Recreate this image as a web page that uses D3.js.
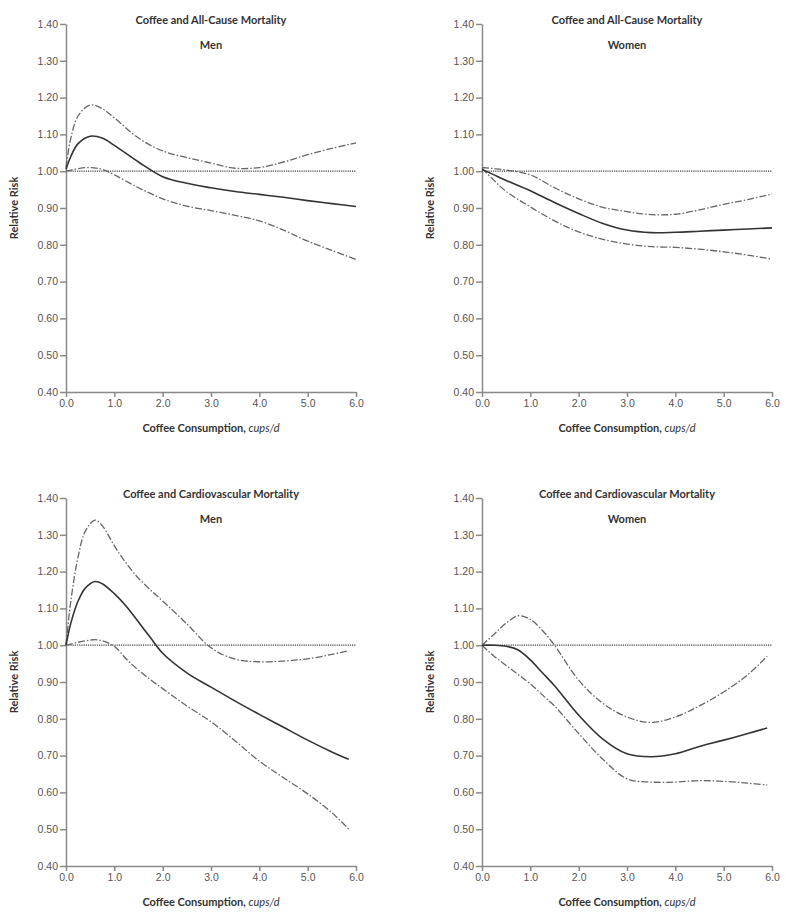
<!DOCTYPE html>
<html>
<head>
<meta charset="utf-8">
<script src="https://cdn.jsdelivr.net/npm/d3@7"></script>
<style>
  body { margin: 0; background: #fff; }
  svg { display: block; font-family: Lato, "Open Sans", sans-serif; }
  .tick text { fill: #555; font-size: 10.5px; }
  .domain, .tick line { stroke: #8a8a8a; stroke-width: 1.5; }
  .title { fill: #333; font-size: 11px; font-weight: bold; }
  .axis-title { fill: #333; font-size: 11px; font-weight: bold; }
</style>
</head>
<body>
<svg id="chart" width="796" height="919"></svg>
<script>
// coffee cups per day (grid points) and relative risk
const xAllMen = [0, 0.1, 0.25, 0.5, 0.75, 1.0, 1.5, 2.0, 2.5, 3.0, 3.5, 4.0, 4.5, 5.0, 5.5, 6.0];
const rrAllMen = [1.005, 1.04, 1.075, 1.095, 1.09, 1.07, 1.025, 0.985, 0.967, 0.955, 0.945, 0.937, 0.929, 0.92, 0.912, 0.904];
const hiAllMen = [1.01, 1.09, 1.15, 1.18, 1.17, 1.145, 1.09, 1.055, 1.037, 1.022, 1.008, 1.01, 1.025, 1.045, 1.062, 1.077];
const loAllMen = [1.0, 1.003, 1.007, 1.01, 1.005, 0.99, 0.955, 0.925, 0.905, 0.893, 0.88, 0.865, 0.84, 0.81, 0.785, 0.76];

const xAllWomen = [0, 0.25, 0.5, 1.0, 1.5, 2.0, 2.5, 3.0, 3.5, 4.0, 4.5, 5.0, 5.5, 6.0];
const rrAllWomen = [1.005, 0.99, 0.975, 0.947, 0.915, 0.885, 0.858, 0.84, 0.833, 0.834, 0.837, 0.84, 0.843, 0.846];
const hiAllWomen = [1.01, 1.007, 1.003, 0.99, 0.955, 0.925, 0.902, 0.89, 0.882, 0.883, 0.895, 0.91, 0.923, 0.938];
const loAllWomen = [1.008, 0.975, 0.945, 0.903, 0.865, 0.835, 0.815, 0.802, 0.795, 0.793, 0.788, 0.781, 0.772, 0.761];

const xCvMen = [0, 0.1, 0.25, 0.4, 0.6, 0.75, 1.0, 1.25, 1.5, 1.75, 2.0, 2.5, 3.0, 3.5, 4.0, 4.5, 5.0, 5.5, 5.85];
const rrCvMen = [1.0, 1.06, 1.12, 1.155, 1.173, 1.167, 1.14, 1.105, 1.063, 1.02, 0.978, 0.925, 0.886, 0.848, 0.812, 0.777, 0.742, 0.71, 0.69];
const hiCvMen = [1.0, 1.12, 1.24, 1.31, 1.34, 1.325, 1.27, 1.222, 1.182, 1.15, 1.12, 1.058, 0.993, 0.962, 0.955, 0.957, 0.963, 0.975, 0.985];
const loCvMen = [1.0, 1.003, 1.008, 1.012, 1.015, 1.012, 0.997, 0.962, 0.932, 0.906, 0.882, 0.835, 0.792, 0.74, 0.685, 0.64, 0.596, 0.545, 0.5];

const xCvWomen = [0, 0.25, 0.5, 0.75, 1.0, 1.25, 1.5, 2.0, 2.5, 3.0, 3.5, 4.0, 4.5, 5.0, 5.5, 5.9];
const rrCvWomen = [1.0, 1.0, 0.997, 0.987, 0.96, 0.925, 0.89, 0.81, 0.745, 0.705, 0.697, 0.705, 0.725, 0.742, 0.76, 0.775];
const hiCvWomen = [1.0, 1.03, 1.06, 1.08, 1.07, 1.04, 1.0, 0.905, 0.842, 0.805, 0.79, 0.805, 0.835, 0.873, 0.92, 0.97];
const loCvWomen = [1.0, 0.97, 0.945, 0.92, 0.895, 0.865, 0.835, 0.76, 0.69, 0.637, 0.628, 0.628, 0.632, 0.63, 0.625, 0.62];

const yTicks = [0.4, 0.5, 0.6, 0.7, 0.8, 0.9, 1.0, 1.1, 1.2, 1.3, 1.4];
const xTicks = [0, 1, 2, 3, 4, 5, 6];

const panels = [
  { title: 'Coffee and All-Cause Mortality', sub: 'Men', left: 66, top: 24, x: xAllMen, rr: rrAllMen, hi: hiAllMen, lo: loAllMen },
  { title: 'Coffee and All-Cause Mortality', sub: 'Women', left: 482, top: 24, x: xAllWomen, rr: rrAllWomen, hi: hiAllWomen, lo: loAllWomen },
  { title: 'Coffee and Cardiovascular Mortality', sub: 'Men', left: 66, top: 498, x: xCvMen, rr: rrCvMen, hi: hiCvMen, lo: loCvMen },
  { title: 'Coffee and Cardiovascular Mortality', sub: 'Women', left: 482, top: 498, x: xCvWomen, rr: rrCvWomen, hi: hiCvWomen, lo: loCvWomen },
];

const width = 290;
const height = 368;
const svg = d3.select('#chart');

const drawPanel = (p) => {
  const g = svg.append('g').attr('transform', `translate(${p.left},${p.top})`);
  const x = d3.scaleLinear().domain([0, 6]).range([0, width]);
  const y = d3.scaleLinear().domain([0.4, 1.4]).range([height, 0]);

  g.append('g')
    .call(d3.axisLeft(y).tickValues(yTicks).tickFormat(d3.format('.2f')).tickSize(6).tickSizeOuter(0).tickPadding(2));
  g.append('g')
    .attr('transform', `translate(0,${height})`)
    .call(d3.axisBottom(x).tickValues(xTicks).tickFormat(d3.format('.1f')).tickSize(5).tickSizeOuter(0).tickPadding(3));

  // reference line at RR = 1
  g.append('line')
    .attr('x1', x(0)).attr('x2', x(6))
    .attr('y1', y(1)).attr('y2', y(1))
    .attr('stroke', '#444').attr('stroke-width', 1.3).attr('stroke-dasharray', '1.2,1');

  const line = d3.line()
    .x(d => x(d[0]))
    .y(d => y(d[1]))
    .curve(d3.curveCatmullRom.alpha(0.5));

  [p.hi, p.lo].forEach(series => {
    g.append('path')
      .attr('d', line(p.x.map((v, i) => [v, series[i]])))
      .attr('fill', 'none').attr('stroke', '#666').attr('stroke-width', 1.3)
      .attr('stroke-dasharray', '7,2,1.5,2');
  });
  g.append('path')
    .attr('d', line(p.x.map((v, i) => [v, p.rr[i]])))
    .attr('fill', 'none').attr('stroke', '#333').attr('stroke-width', 1.6);

  g.append('text').attr('class', 'title')
    .attr('x', width / 2).attr('y', 0).attr('text-anchor', 'middle')
    .text(p.title);
  g.append('text').attr('class', 'title')
    .attr('x', width / 2).attr('y', 25).attr('text-anchor', 'middle')
    .text(p.sub);

  g.append('text').attr('class', 'axis-title')
    .attr('transform', `translate(-48,${y(0.9)}) rotate(-90)`)
    .attr('text-anchor', 'middle')
    .text('Relative Risk');

  const xt = g.append('text').attr('class', 'axis-title')
    .attr('x', width / 2).attr('y', height + 40).attr('text-anchor', 'middle');
  xt.append('tspan').text('Coffee Consumption, ');
  xt.append('tspan').attr('font-style', 'italic').attr('font-weight', 'normal').text('cups/d');
};

panels.forEach(drawPanel);
</script>
</body>
</html>
